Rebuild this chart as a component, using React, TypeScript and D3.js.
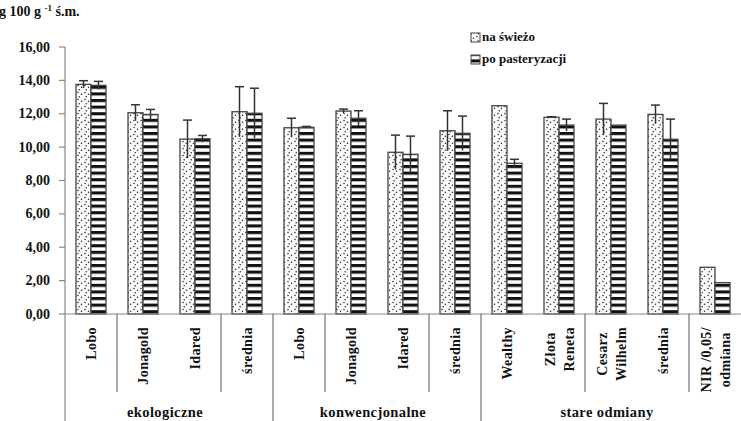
import React, { useEffect, useRef } from "react";
import * as d3 from "d3";

// Category labels (line breaks split multi-line labels)
const categories = [
  "Lobo", "Jonagold", "Idared", "średnia",
  "Lobo", "Jonagold", "Idared", "średnia",
  "Wealthy", "Złota\nReneta", "Cesarz\nWilhelm", "średnia", "NIR /0,05/\nodmiana",
];
const groups = ["ekologiczne", "konwencjonalne", "stare odmiany"];
const groupSpans = [[0, 3], [4, 7], [8, 12]];

const fresh = [13.76, 12.06, 10.48, 12.12, 11.16, 12.16, 9.69, 10.98, 12.48, 11.79, 11.68, 11.96, 2.8];
const freshErr = [0.22, 0.48, 1.14, 1.5, 0.57, 0.12, 1.03, 1.2, 0, 0.03, 0.94, 0.56, null];
const pasteur = [13.7, 11.96, 10.5, 12.03, 11.19, 11.73, 9.57, 10.83, 9.03, 11.32, 11.32, 10.47, 1.88];
const pasteurErr = [0.24, 0.3, 0.2, 1.5, 0.05, 0.45, 1.09, 1.03, 0.24, 0.36, 0, 1.21, null];

const yTicks = [0, 2, 4, 6, 8, 10, 12, 14, 16];
const seriesNames = ["na świeżo", "po pasteryzacji"];
// short separators between categories inside a group
const shortSeparators = [1, 3, 5, 7, 10, 12];

const W = 741;
const H = 421;
const FONT = "'Liberation Serif', 'Times New Roman', serif";

export default function App() {
  const ref = useRef<SVGSVGElement>(null);

  useEffect(() => {
    const svg = d3.select(ref.current);
    svg.selectAll("*").remove();

    const x = d3.scaleBand<number>().domain(d3.range(categories.length)).range([65, 741]).padding(0);
    const y = d3.scaleLinear().domain([0, 16]).range([314, 47]);
    const barW = 15;

    const defs = svg.append("defs");
    const dots = defs.append("pattern").attr("id", "dots").attr("patternUnits", "userSpaceOnUse")
      .attr("width", 7).attr("height", 7);
    dots.append("rect").attr("width", 7).attr("height", 7).attr("fill", "#fbfbfb");
    [[1, 1.5], [4.5, 3.2], [2.2, 5.8]].forEach(([cx, cy]) =>
      dots.append("circle").attr("cx", cx).attr("cy", cy).attr("r", 0.75).attr("fill", "#222"));

    const stripes = defs.append("pattern").attr("id", "stripes").attr("patternUnits", "userSpaceOnUse")
      .attr("width", 10).attr("height", 6.6);
    stripes.append("rect").attr("width", 10).attr("height", 6.6).attr("fill", "#fff");
    stripes.append("rect").attr("y", 0).attr("width", 10).attr("height", 3.1).attr("fill", "#111");

    const g = svg.append("g").attr("font-family", FONT).attr("font-weight", "bold");

    // unit label
    const unit = g.append("text").attr("x", -1).attr("y", 16).attr("font-size", 14).attr("fill", "#111");
    unit.append("tspan").text("g 100 g ");
    unit.append("tspan").attr("font-size", 9).attr("dy", -5).text("-1");
    unit.append("tspan").attr("dy", 5).text(" ś.m.");

    // y axis
    g.append("line").attr("x1", 65).attr("x2", 65).attr("y1", y(16)).attr("y2", H)
      .attr("stroke", "#888").attr("stroke-width", 1.2);
    yTicks.forEach((t) => {
      g.append("line").attr("x1", 59).attr("x2", 65).attr("y1", y(t)).attr("y2", y(t))
        .attr("stroke", "#888").attr("stroke-width", 1.2);
      g.append("text").attr("x", 50).attr("y", y(t) + 4.5).attr("text-anchor", "end")
        .attr("font-size", 14).attr("fill", "#111").text(d3.format(".2f")(t).replace(".", ","));
    });

    // bars
    const drawBars = (vals: number[], errs: (number | null)[], offset: number, fill: string) => {
      vals.forEach((v, i) => {
        const bx = (x(i) as number) + x.bandwidth() / 2 + offset;
        g.append("rect").attr("x", bx).attr("y", y(v)).attr("width", barW).attr("height", y(0) - y(v))
          .attr("fill", fill).attr("stroke", "#444").attr("stroke-width", 1.3);
      });
      vals.forEach((v, i) => {
        const e = errs[i];
        if (e == null || e <= 0) return;
        const cx = (x(i) as number) + x.bandwidth() / 2 + offset + barW / 2;
        g.append("line").attr("x1", cx).attr("x2", cx).attr("y1", y(v + e)).attr("y2", y(v - e))
          .attr("stroke", "#333").attr("stroke-width", 1.5);
        g.append("line").attr("x1", cx - 4.5).attr("x2", cx + 4.5).attr("y1", y(v + e)).attr("y2", y(v + e))
          .attr("stroke", "#333").attr("stroke-width", 1.5);
      });
    };
    drawBars(fresh, freshErr, -barW, "url(#dots)");
    drawBars(pasteur, pasteurErr, 0, "url(#stripes)");

    // category axis
    g.append("line").attr("x1", 65).attr("x2", W).attr("y1", y(0)).attr("y2", y(0))
      .attr("stroke", "#888").attr("stroke-width", 1.2);
    shortSeparators.forEach((i) => {
      const sx = x(i) as number;
      g.append("line").attr("x1", sx).attr("x2", sx).attr("y1", y(0)).attr("y2", 392)
        .attr("stroke", "#555").attr("stroke-width", 1);
    });
    groupSpans.forEach(([a], k) => {
      if (k === 0) return;
      const sx = x(a) as number;
      g.append("line").attr("x1", sx).attr("x2", sx).attr("y1", y(0)).attr("y2", H)
        .attr("stroke", "#555").attr("stroke-width", 1);
    });

    // rotated category labels
    const top = 327;
    categories.forEach((c, i) => {
      const lines = c.split("\n");
      const cxm = (x(i) as number) + x.bandwidth() / 2;
      const lineGap = 19;
      const texts = lines.map((ln, j) => {
        const lx = cxm + (j - (lines.length - 1) / 2) * lineGap + 5;
        return g.append("text").attr("transform", `translate(${lx},0) rotate(-90)`)
          .attr("font-size", 14).attr("fill", "#111").attr("letter-spacing", 0.4)
          .attr("text-anchor", "middle").text(ln);
      });
      const widths = texts.map((t) => (t.node() as SVGTextElement).getComputedTextLength());
      const maxW = d3.max(widths) as number;
      texts.forEach((t) => t.attr("x", -(top + maxW / 2)).attr("y", 0));
    });

    // group labels
    groupSpans.forEach(([a, b], k) => {
      const gx = ((x(a) as number) + (x(b) as number) + x.bandwidth()) / 2;
      g.append("text").attr("x", gx - 4).attr("y", 417).attr("text-anchor", "middle")
        .attr("font-size", 14.5).attr("fill", "#111").attr("letter-spacing", 0.4).text(groups[k]);
    });

    // legend
    const legendFills = ["url(#dots)", "url(#stripes)"];
    seriesNames.forEach((s, k) => {
      const ly = 33 + k * 22;
      g.append("rect").attr("x", 471).attr("y", ly).attr("width", 9).attr("height", 9)
        .attr("fill", legendFills[k]).attr("stroke", "#444").attr("stroke-width", 1);
      g.append("text").attr("x", 482).attr("y", ly + 8).attr("font-size", 13).attr("fill", "#111").text(s);
    });
  }, []);

  return (
    <svg ref={ref} width={W} height={H} style={{ position: "absolute", left: 0, top: 0, background: "#fff" }} />
  );
}
